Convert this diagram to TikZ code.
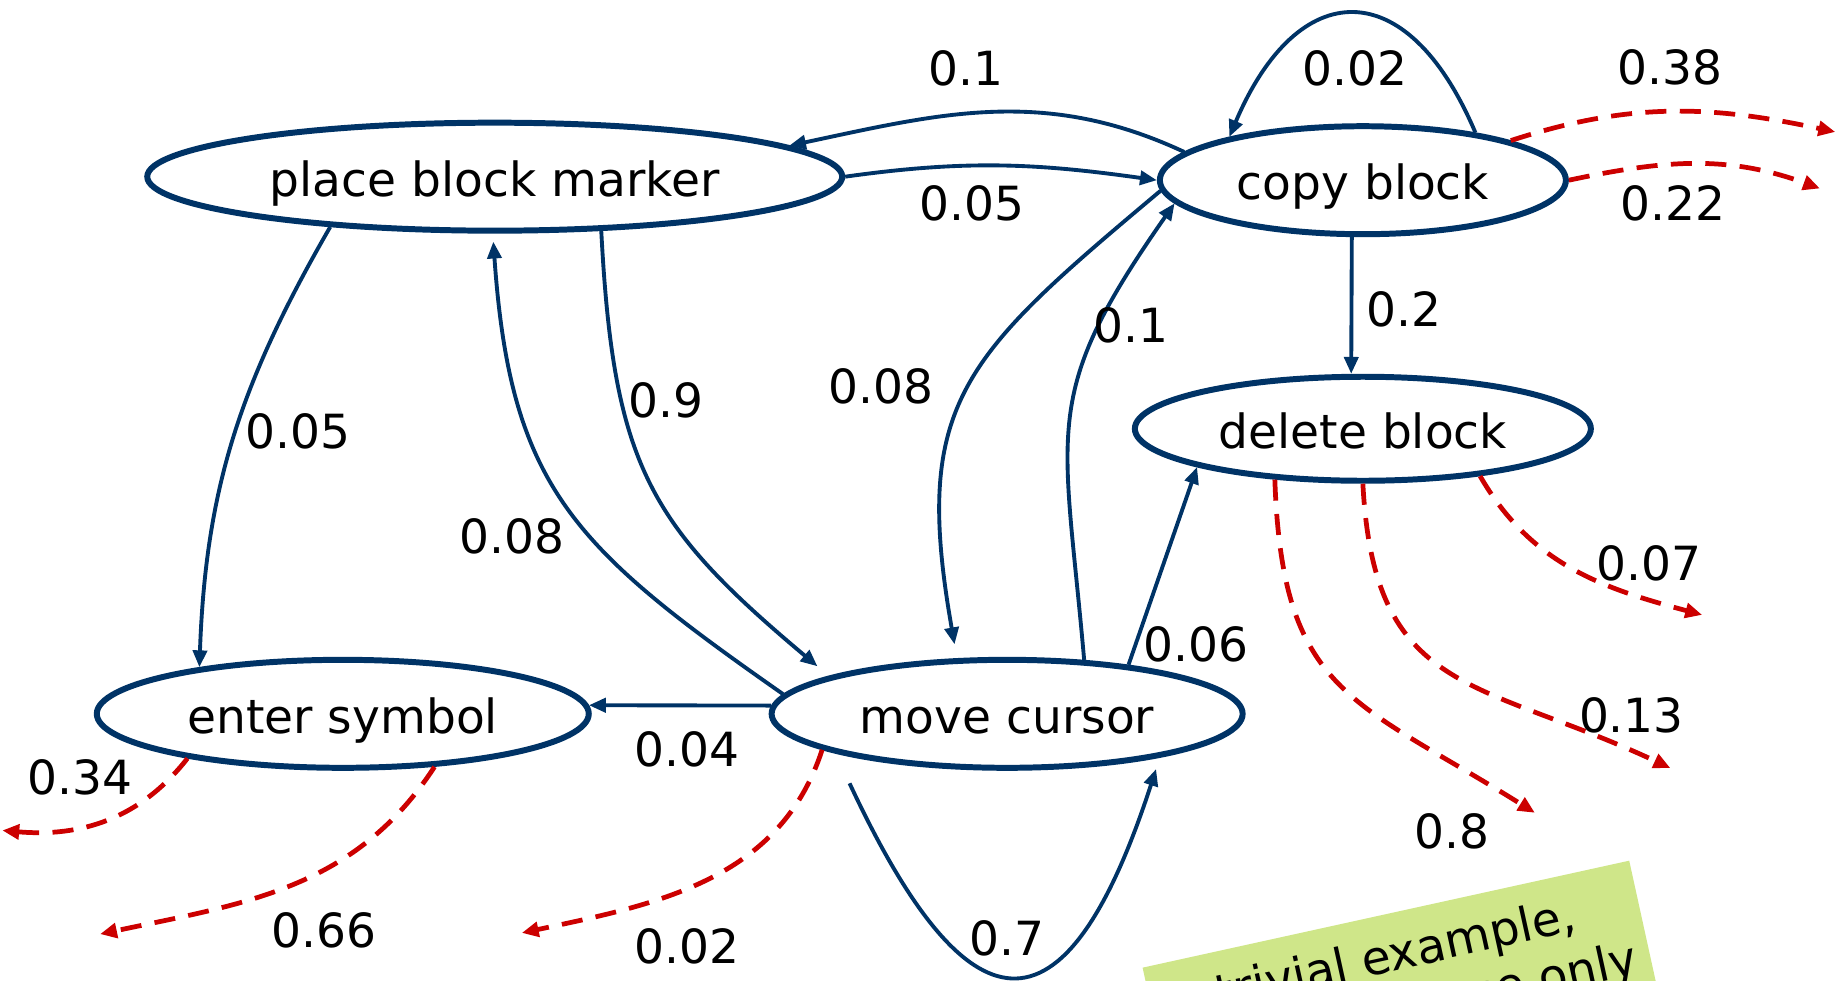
\documentclass[tikz,border=0pt]{standalone}
\usepackage{fontspec}
\setmainfont{DejaVu Sans}
\usepackage{tikz}
\usetikzlibrary{arrows.meta,shapes.geometric}
\definecolor{navy}{RGB}{0,51,102}
\definecolor{exitred}{RGB}{204,0,0}
\definecolor{notegreen}{RGB}{207,230,137}
\tikzset{
  state/.style={ellipse,draw=navy,line width=1.7pt,inner sep=0pt,minimum height=1.08cm,text height=11pt,text depth=0pt,font=\fontsize{13.4}{16}\selectfont},
  trans/.style={draw=navy,line width=1.1pt,-{Triangle[length=4.8pt,width=4pt]}},
  exit/.style={draw=exitred,line width=1.35pt,dash pattern=on 6pt off 3.8pt,-{Triangle[length=4.8pt,width=4.2pt]}},
  prob/.style={inner sep=0pt,font=\fontsize{13.4}{16}\selectfont}
}
\begin{document}
\begin{tikzpicture}[x=0.01178cm,y=0.01178cm]
        \useasboundingbox (0,0) rectangle (1568,832);
        \begin{scope}
        \clip (0,0) rectangle (1568,832);
        \begin{scope}[shift={(970,10.5)},rotate=12.4]
        \fill[notegreen] (0,0) rectangle (423,-150);
        \node[prob,rotate=12.4,anchor=base west] (note1) at (56,-48.4) {trivial example,};
        \node[prob,rotate=12.4,anchor=base east] (note2) at (411.7,-95.9) {purpose only};
        \end{scope}
        \end{scope}
        \node[state,minimum width=6.95cm] (pbm) at (420,682) {place block marker};
        \node[state,minimum width=4.06cm] (cb) at (1157,679) {copy block};
        \node[state,minimum width=4.56cm,minimum height=1.04cm] (db) at (1157,468) {delete block};
        \node[state,minimum width=4.92cm] (es) at (291,226) {enter symbol};
        \node[state,minimum width=4.71cm] (mc) at (855,226) {move cursor};
        \coordinate (x38) at (1558,720);
        \coordinate (x22) at (1545,672);
        \coordinate (x07) at (1445,310);
        \coordinate (x13) at (1418,180);
        \coordinate (x8) at (1303,142);
        \coordinate (x02) at (443,40);
        \coordinate (x34) at (2,127);
        \coordinate (x66) at (85,39);
        \draw[trans] (cb.171) to[out=155,in=12] (pbm.6);
        \draw[trans] (pbm.east) to[out=8,in=172] (cb.west);
        \draw[trans] (cb.23) to[out=113,in=67,distance=1.75cm] (cb.162);
        \draw[trans] (cb.259) -- (db.102);
        \draw[trans] (pbm.197) to[out=240,in=88] (es.162);
        \draw[trans,shorten >=0.08cm] (mc.175) to[out=145,in=274,looseness=1.2] (pbm.268);
        \draw[trans,shorten >=0.15cm] (pbm.333) to[out=273,in=140,looseness=1.2] (mc.168);
        \draw[trans,shorten >=0.14cm] (cb.183) to[out=220,in=100,looseness=1.3] (mc.132);
        \draw[trans] (mc.35) to[out=95,in=235,looseness=1.3] (cb.187);
        \draw[trans] (mc.22) -- (db.193);
        \draw[trans] (mc.178) -- (es.2);
        \draw[trans,shorten <=0.33cm,shorten >=0.12cm] (mc.193) to[out=-65,in=-108,distance=3.1cm] (mc.344);
        \draw[exit] (cb.15) to[out=18,in=168] (x38);
        \draw[exit] (cb.east) to[out=12,in=160] (x22);
        \draw[exit] (db.-22) to[out=300,in=165] (x07);
        \draw[exit] (db.south) to[out=273,in=155,looseness=1.3] (x13);
        \draw[exit] (db.210) to[out=272,in=148,looseness=1.3] (x8);
        \draw[exit] (mc.191) to[out=252,in=12] (x02);
        \draw[exit] (es.196) to[out=232,in=-5] (x34);
        \draw[exit] (es.-30) to[out=237,in=12] (x66);
        \node[prob] (p1) at (820,774) {0.1};
        \node[prob] (p2) at (825,659) {0.05};
        \node[prob] (p3) at (1150,774) {0.02};
        \node[prob] (p4) at (1418,775) {0.38};
        \node[prob] (p5) at (1420,659) {0.22};
        \node[prob] (p6) at (1192,569) {0.2};
        \node[prob] (p7) at (253,466) {0.05};
        \node[prob] (p8) at (435,377) {0.08};
        \node[prob] (p9) at (565,492) {0.9};
        \node[prob] (p10) at (748,504) {0.08};
        \node[prob] (p11) at (960,556) {0.1};
        \node[prob] (p12) at (1015,285) {0.06};
        \node[prob] (p13) at (583,196) {0.04};
        \node[prob] (p14) at (855,35) {0.7};
        \node[prob] (p15) at (583,29) {0.02};
        \node[prob] (p16) at (68,172) {0.34};
        \node[prob] (p17) at (275,42) {0.66};
        \node[prob] (p18) at (1233,126) {0.8};
        \node[prob] (p19) at (1385,225) {0.13};
        \node[prob] (p20) at (1400,354) {0.07};
\end{tikzpicture}
\end{document}
